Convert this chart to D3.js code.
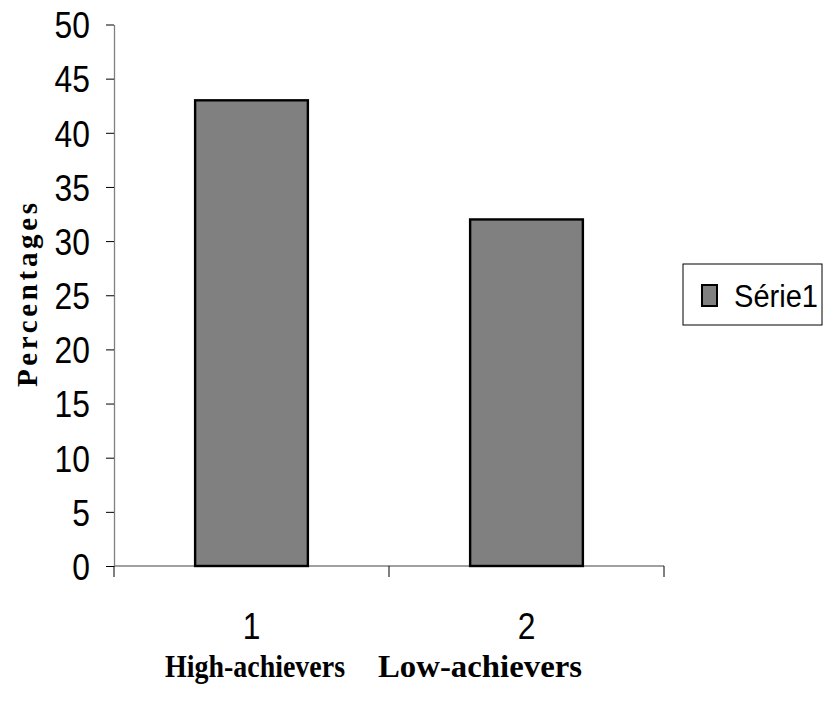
<!DOCTYPE html>
<html>
<head>
<meta charset="utf-8">
<script src="https://cdn.jsdelivr.net/npm/d3@7"></script>
<style>
  html, body { margin: 0; padding: 0; background: #fff; }
  svg { display: block; }
</style>
</head>
<body>
<svg id="chart" width="824" height="714"></svg>
<script>
// Data
const categories = ["1", "2"];
const values = [43, 32];
const yTicks = [0, 5, 10, 15, 20, 25, 30, 35, 40, 45, 50];
const seriesName = "Série1";
const yTitle = "Percentages";
const xTitles = ["High-achievers", "Low-achievers"];

const SANS = "'Liberation Sans', Arial, sans-serif";
const SERIF = "'Liberation Serif', 'Times New Roman', serif";
const SX = 0.86; // narrow horizontal scale used for all labels

const svg = d3.select("#chart");
const plot = { left: 114, right: 664, top: 24.5, bottom: 566 };

const x = d3.scaleBand()
  .domain(categories)
  .range([plot.left, plot.right])
  .paddingInner(0.59)
  .paddingOuter(0.295);

const y = d3.scaleLinear().domain([0, 50]).range([plot.bottom, plot.top]);

// Y axis
const yAxis = svg.append("g")
  .attr("transform", `translate(${plot.left},0)`)
  .call(d3.axisLeft(y).tickValues(yTicks).tickSize(8).tickSizeOuter(0));
yAxis.select(".domain").attr("stroke", "#808080").attr("stroke-width", 1.3);
yAxis.selectAll(".tick line").attr("stroke", "#000").attr("stroke-width", 1);
yAxis.selectAll(".tick text")
  .attr("x", 0)
  .attr("dy", "0.36em")
  .attr("transform", `translate(-24,0) scale(${SX},1)`)
  .attr("font-family", SANS)
  .attr("font-size", 37)
  .attr("fill", "#000");

// X axis: ticks sit on the category boundaries
const xAxisG = svg.append("g").attr("transform", `translate(0,${plot.bottom})`);
xAxisG.append("line")
  .attr("x1", plot.left).attr("x2", plot.right)
  .attr("stroke", "#808080").attr("stroke-width", 1.3);
const mid = (x(categories[0]) + x.bandwidth() + x(categories[1])) / 2;
const bounds = [plot.left, mid, plot.right];
xAxisG.selectAll("line.tk").data(bounds).join("line")
  .attr("class", "tk")
  .attr("x1", d => d).attr("x2", d => d)
  .attr("y1", 0).attr("y2", 11)
  .attr("stroke", "#000").attr("stroke-width", 1);
xAxisG.selectAll("text.cat").data(categories).join("text")
  .attr("class", "cat")
  .attr("transform", d => `translate(${x(d) + x.bandwidth() / 2},73) scale(${SX},1)`)
  .attr("text-anchor", "middle")
  .attr("font-family", SANS)
  .attr("font-size", 37)
  .text(d => d);

// Bars
svg.append("g").selectAll("rect").data(values).join("rect")
  .attr("x", (d, i) => x(categories[i]))
  .attr("y", d => y(d))
  .attr("width", x.bandwidth())
  .attr("height", d => y(0) - y(d))
  .attr("fill", "#808080")
  .attr("stroke", "#000")
  .attr("stroke-width", 2.4);

// Y title
svg.append("text")
  .attr("transform", "translate(37,295) rotate(-90)")
  .attr("x", -92)
  .attr("font-family", SERIF)
  .attr("font-weight", "bold")
  .attr("font-size", 29)
  .attr("textLength", 184)
  .attr("lengthAdjust", "spacing")
  .text(yTitle);

// X titles
const xTitlePos = [{ x: 165, w: 180 }, { x: 378, w: 204 }];
svg.append("g").selectAll("text").data(xTitles).join("text")
  .attr("x", (d, i) => xTitlePos[i].x)
  .attr("y", 677)
  .attr("font-family", SERIF)
  .attr("font-weight", "bold")
  .attr("font-size", 32)
  .attr("textLength", (d, i) => xTitlePos[i].w)
  .attr("lengthAdjust", "spacingAndGlyphs")
  .text(d => d);

// Legend
const lg = svg.append("g").attr("transform", "translate(683,264)");
lg.append("rect").attr("width", 139).attr("height", 61)
  .attr("fill", "#fff").attr("stroke", "#000").attr("stroke-width", 1);
lg.append("rect").attr("x", 19).attr("y", 21).attr("width", 15).attr("height", 21)
  .attr("fill", "#808080").attr("stroke", "#000").attr("stroke-width", 2);
lg.append("text").attr("x", 51).attr("y", 42.5)
  .attr("font-family", SANS)
  .attr("font-size", 31)
  .attr("textLength", 84)
  .attr("lengthAdjust", "spacingAndGlyphs")
  .text(seriesName);
</script>
</body>
</html>
